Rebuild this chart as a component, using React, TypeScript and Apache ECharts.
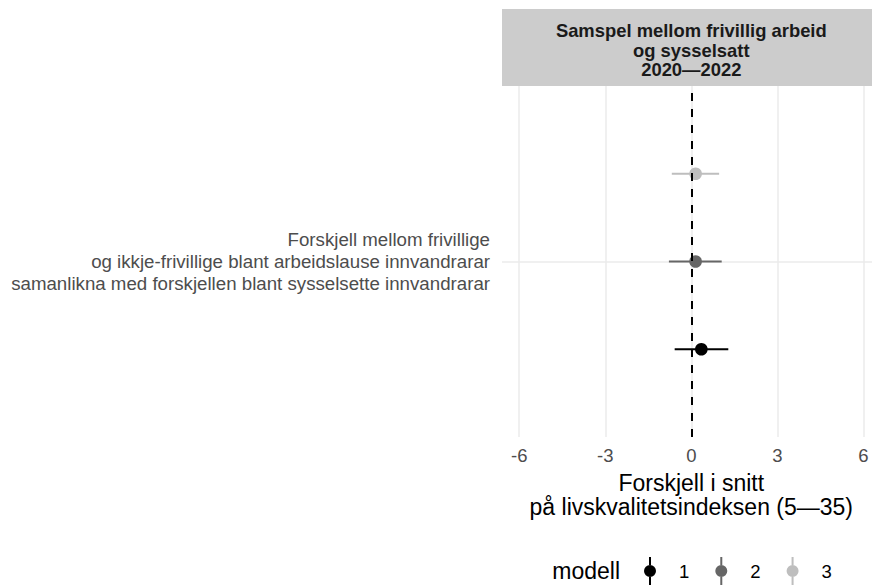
import React, { useEffect, useRef } from "react";
import * as echarts from "echarts";

const models = ["1", "2", "3"];
const estimates = [0.35, 0.15, 0.15];
const lower = [-0.58, -0.78, -0.68];
const upper = [1.29, 1.06, 0.97];
const rowPositions = [1, 2, 3];
const modelColors = ["#000000", "#666666", "#bebebe"];
const xTicks = [-6, -3, 0, 3, 6];
const categoryLabel =
  "Forskjell mellom frivillige\nog ikkje-frivillige blant arbeidslause innvandrarar\nsamanlikna med forskjellen blant sysselsette innvandrarar";
const stripTitle = "Samspel mellom frivillig arbeid\nog sysselsatt\n2020—2022";
const xTitle = "Forskjell i snitt\npå livskvalitetsindeksen (5—35)";
const legendTitle = "modell";

const FONT = "'Liberation Sans', Arial, Helvetica, sans-serif";
const KEY_ICON =
  "path://M-1,-14L1,-14L1,-6L-1,-6Z M-1,6L1,6L1,14L-1,14Z M6,0A6,6,0,1,1,-6,0A6,6,0,1,1,6,0Z";

export default function App() {
  const ref = useRef<HTMLDivElement>(null);
  useEffect(() => {
    if (!ref.current) return;
    const chart = echarts.init(ref.current, null, { renderer: "svg" });
    const series: any[] = models.map((m, i) => ({
      type: "custom",
      name: m,
      itemStyle: { color: modelColors[i] },
      encode: { x: [0, 1, 2], y: 3 },
      data: [[lower[i], upper[i], estimates[i], rowPositions[i]]],
      z: 3,
      renderItem: (params: any, api: any) => {
        const y = api.value(3);
        const p0 = api.coord([api.value(0), y]);
        const p1 = api.coord([api.value(1), y]);
        const pc = api.coord([api.value(2), y]);
        return {
          type: "group",
          children: [
            {
              type: "line",
              shape: { x1: p0[0], y1: p0[1], x2: p1[0], y2: p1[1] },
              style: { stroke: modelColors[i], lineWidth: 2 },
            },
            {
              type: "circle",
              shape: { cx: pc[0], cy: pc[1], r: 6.3 },
              style: { fill: modelColors[i] },
            },
          ],
        };
      },
    }));
    series.push({
      type: "line",
      name: "zero",
      data: [],
      z: 10,
      markLine: {
        silent: true,
        symbol: "none",
        label: { show: false },
        lineStyle: { color: "#000", type: [8, 8], width: 2 },
        data: [{ xAxis: 0 }],
      },
    });
    chart.setOption({
      animation: false,
      backgroundColor: "#ffffff",
      grid: {
        left: 502,
        top: 86,
        width: 378.6,
        height: 351,
        containLabel: false,
        outerBoundsMode: "none",
      },
      xAxis: {
        type: "value",
        min: -6.6,
        max: 6.6,
        axisLine: { show: false },
        axisTick: { show: false, customValues: xTicks },
        axisLabel: {
          customValues: xTicks,
          fontSize: 18.5,
          color: "#4d4d4d",
          margin: 9,
          fontFamily: FONT,
        },
        splitLine: { show: true, lineStyle: { color: "#ebebeb", width: 1.5 } },
        name: xTitle,
        nameLocation: "middle",
        nameGap: 34,
        nameTextStyle: {
          fontSize: 23,
          lineHeight: 24,
          color: "#000",
          fontFamily: FONT,
        },
      },
      yAxis: {
        type: "value",
        min: 0,
        max: 4,
        interval: 2,
        axisLine: { show: false },
        axisTick: { show: false },
        axisLabel: {
          formatter: (v: number) => (v === 2 ? categoryLabel : ""),
          fontSize: 18.7,
          lineHeight: 22,
          color: "#4d4d4d",
          margin: 12,
          align: "right",
          fontFamily: FONT,
        },
        splitLine: {
          show: true,
          lineStyle: {
            color: ["rgba(0,0,0,0)", "#ebebeb", "rgba(0,0,0,0)"],
            width: 1.5,
          },
        },
      },
      legend: {
        data: models,
        left: 644,
        top: 557,
        padding: 0,
        itemWidth: 12,
        itemHeight: 28,
        itemGap: 26,
        icon: KEY_ICON,
        selectedMode: false,
        textStyle: {
          fontSize: 18.5,
          color: "#000",
          fontFamily: FONT,
          padding: [0, 0, 0, 18],
        },
      },
      graphic: [
        {
          type: "rect",
          shape: { x: 502, y: 9, width: 379, height: 77 },
          style: { fill: "#cccccc" },
          silent: true,
        },
        {
          type: "text",
          x: 691.3,
          y: 50.3,
          style: {
            text: stripTitle,
            fontSize: 18.4,
            fontWeight: "bold",
            fontFamily: FONT,
            lineHeight: 19.5,
            align: "center",
            verticalAlign: "middle",
            fill: "#1a1a1a",
          },
          silent: true,
        },
        {
          type: "text",
          x: 620,
          y: 571,
          style: {
            text: legendTitle,
            fontSize: 23,
            fontFamily: FONT,
            align: "right",
            verticalAlign: "middle",
            fill: "#000",
          },
          silent: true,
        },
      ],
      series,
    });
    return () => chart.dispose();
  }, []);
  return (
    <div
      ref={ref}
      style={{ position: "fixed", left: 0, top: 0, width: 872, height: 585 }}
    />
  );
}
